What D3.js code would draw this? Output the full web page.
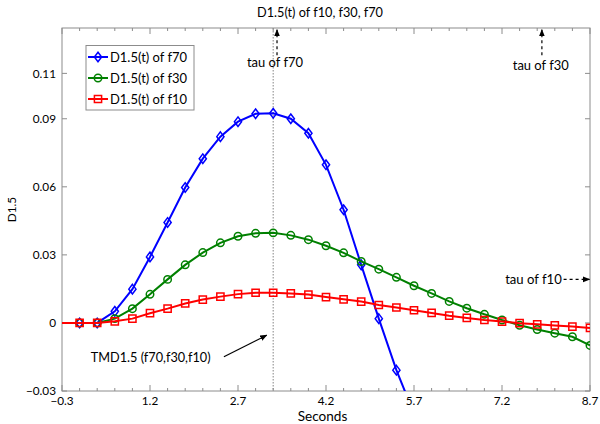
<!DOCTYPE html>
<html><head><meta charset="utf-8">
<script src="https://cdn.jsdelivr.net/npm/d3@7/dist/d3.min.js"></script>
<style>
html,body{margin:0;padding:0;background:#fff;}
svg{display:block;font-family:Lato,"Open Sans",sans-serif;}
</style></head>
<body><svg id="c" width="600" height="424"></svg>
<script>
const seconds = [-0.3,0,0.3,0.6,0.9,1.2,1.5,1.8,2.1,2.4,2.7,3.0,3.3,3.6,3.9,4.2,4.5,4.8,5.1,5.4,5.7,6.0,6.3,6.6,6.9,7.2,7.5,7.8,8.1,8.4,8.7];
const f70 = [0,0,0,0.0051,0.0149,0.0291,0.0443,0.0597,0.0724,0.0821,0.0887,0.0922,0.0924,0.0900,0.0836,0.0697,0.0499,0.0256,0.0019,-0.0208,-0.0400];
const f30 = [0,0,0,0.0019,0.0063,0.0126,0.0192,0.0256,0.0310,0.0353,0.0382,0.0395,0.0397,0.0386,0.0367,0.0340,0.0309,0.0271,0.0237,0.0201,0.0164,0.0130,0.0095,0.0065,0.0038,0.0013,-0.0010,-0.0029,-0.0045,-0.0061,-0.0099];
const f10 = [0,0,0,0.0007,0.0019,0.0043,0.0063,0.0086,0.0103,0.0116,0.0127,0.0133,0.0133,0.0130,0.0125,0.0114,0.0104,0.0094,0.0079,0.0068,0.0056,0.0044,0.0032,0.0022,0.0013,0.0006,-0.0001,-0.0006,-0.0011,-0.0016,-0.0022];
const xMajorTicks = [-0.3,1.2,2.7,4.2,5.7,7.2,8.7];
const xMinorTicks = [0,0.3,0.6,0.9,1.5,1.8,2.1,2.4,3.0,3.3,3.6,3.9,4.5,4.8,5.1,5.4,6.0,6.3,6.6,6.9,7.5,7.8,8.1,8.4];
const yTicks = [-0.03,0,0.03,0.06,0.09,0.11];
const yTickLabels = ["\u22120.03","0","0.03","0.06","0.09","0.11"];
const xTickLabels = ["\u22120.3","1.2","2.7","4.2","5.7","7.2","8.7"];
const tauLine = 3.3;
const seriesNames = ["D1.5(t) of f70","D1.5(t) of f30","D1.5(t) of f10"];
const title = "D1.5(t) of f10, f30, f70";
const xLabel = "Seconds", yLabel = "D1.5";

const svg = d3.select("#c");
const L=62,R=590,T=28,B=391;
const x = d3.scaleLinear().domain([-0.3,8.7]).range([L,R]);
const y = d3.scaleLinear().domain([-0.03,0.13]).range([B,T]);
const axisColor="#8c8c8c", textColor="#000";

function fit(sel, target){
  sel.attr("font-size",14);
  const w = sel.node().getComputedTextLength();
  if (w>0) sel.attr("font-size", 14*target/w);
  return sel;
}

const defs = svg.append("defs");
defs.append("clipPath").attr("id","clip")
  .append("rect").attr("x",L).attr("y",T).attr("width",R-L).attr("height",B-T);
defs.append("marker").attr("id","ah").attr("viewBox","0 0 10 10").attr("refX",9).attr("refY",5)
  .attr("markerWidth",6).attr("markerHeight",6).attr("orient","auto")
  .append("path").attr("d","M0,1 L10,5 L0,9 Z").attr("fill","#000");

svg.append("line").attr("x1",x(tauLine)).attr("x2",x(tauLine)).attr("y1",T).attr("y2",B)
  .attr("stroke","#999").attr("stroke-width",1.2).attr("stroke-dasharray","1.5,1.5");

const g = svg.append("g");
g.append("rect").attr("x",L).attr("y",T).attr("width",R-L).attr("height",B-T)
  .attr("fill","none").attr("stroke",axisColor).attr("stroke-width",1);
const tk = g.append("g").attr("stroke",axisColor).attr("stroke-width",1);
xMajorTicks.forEach(v=>{
  tk.append("line").attr("x1",x(v)).attr("x2",x(v)).attr("y1",B).attr("y2",B-6);
  tk.append("line").attr("x1",x(v)).attr("x2",x(v)).attr("y1",T).attr("y2",T+6);
});
xMinorTicks.forEach(v=>{
  tk.append("line").attr("x1",x(v)).attr("x2",x(v)).attr("y1",B).attr("y2",B-3);
  tk.append("line").attr("x1",x(v)).attr("x2",x(v)).attr("y1",T).attr("y2",T+3);
});
yTicks.forEach(v=>{
  tk.append("line").attr("x1",L).attr("x2",L+5).attr("y1",y(v)).attr("y2",y(v));
  tk.append("line").attr("x1",R).attr("x2",R-5).attr("y1",y(v)).attr("y2",y(v));
});

const probe = svg.append("text").text("0.09");
fit(probe, 23.3);
const tickFont = +probe.attr("font-size");
probe.remove();
g.selectAll(".yl").data(yTicks).join("text").attr("x",L-6).attr("y",d=>y(d)).attr("dy","0.35em")
  .attr("text-anchor","end").attr("font-size",tickFont).attr("fill",textColor).text((d,i)=>yTickLabels[i]);
g.selectAll(".xl").data(xMajorTicks).join("text").attr("x",d=>x(d)).attr("y",B+14)
  .attr("text-anchor","middle").attr("font-size",tickFont).attr("fill",textColor).text((d,i)=>xTickLabels[i]);

fit(svg.append("text").attr("x",322.5).attr("y",421).attr("text-anchor","middle").attr("fill",textColor).text(xLabel), 49.6);
svg.append("text").attr("transform",`translate(16,${(T+B)/2}) rotate(-90)`).attr("text-anchor","middle").attr("font-size",tickFont).attr("fill",textColor).text(yLabel);
fit(svg.append("text").attr("x",320).attr("y",17).attr("text-anchor","middle").attr("fill",textColor).text(title), 126);

const series = [
  {name:seriesNames[0], vals:f70, color:"#0000ff", shape:"diamond"},
  {name:seriesNames[1], vals:f30, color:"#008000", shape:"circle"},
  {name:seriesNames[2], vals:f10, color:"#ff0000", shape:"square"}
];
function markerPath(shape){
  if(shape==="square") return "M-3.6,-3.6H3.6V3.6H-3.6Z";
  if(shape==="circle") return d3.symbol(d3.symbolCircle,44)();
  return "M0,-4.8L3.6,0L0,4.8L-3.6,0Z";
}
const plot = svg.append("g").attr("clip-path","url(#clip)");
const line = d3.line().x(d=>x(d[0])).y(d=>y(d[1]));
series.forEach(s=>{
  const pts = s.vals.map((v,i)=>[seconds[i],v]);
  plot.append("path").datum(pts).attr("d",line).attr("fill","none").attr("stroke",s.color).attr("stroke-width",2);
  plot.selectAll(null).data(pts.filter(p=>p[0]>=0 && y(p[1])<=B+2)).join("path")
    .attr("transform",p=>`translate(${x(p[0])},${y(p[1])})`).attr("d",markerPath(s.shape))
    .attr("fill","none").attr("stroke",s.color).attr("stroke-width",1.5);
});

const lg = svg.append("g");
lg.append("rect").attr("x",86).attr("y",45.5).attr("width",108).attr("height",64.5)
  .attr("fill","#fff").attr("stroke",axisColor).attr("stroke-width",1);
series.forEach((s,i)=>{
  const cy = 57 + i*21;
  lg.append("line").attr("x1",88).attr("x2",108).attr("y1",cy).attr("y2",cy).attr("stroke",s.color).attr("stroke-width",2);
  lg.append("path").attr("transform",`translate(98,${cy})`).attr("d",markerPath(s.shape)).attr("fill","none").attr("stroke",s.color).attr("stroke-width",1.5);
  fit(lg.append("text").attr("x",110).attr("y",cy).attr("dy","0.35em").attr("fill",textColor).text(s.name), 77);
});

const ann = svg.append("g").attr("fill",textColor);
function arrow(x1,y1,x2,y2,dashed){
  svg.append("line").attr("x1",x(x1)).attr("y1",y(y1)).attr("x2",x(x2)).attr("y2",y(y2))
    .attr("stroke","#000").attr("stroke-width",1.2).attr("stroke-dasharray",dashed?"3,3":null)
    .attr("marker-end","url(#ah)");
}
arrow(3.365,0.118,3.365,0.1292,true);
fit(ann.append("text").attr("x",x(3.33)).attr("y",y(0.1127)).attr("text-anchor","middle").text("tau of f70"), 56);
arrow(7.88,0.118,7.88,0.1292,true);
fit(ann.append("text").attr("x",x(7.86)).attr("y",y(0.1114)).attr("text-anchor","middle").text("tau of f30"), 56);
arrow(8.25,0.0192,8.69,0.0192,true);
fit(ann.append("text").attr("x",x(8.22)).attr("y",y(0.019)).attr("dy","0.35em").attr("text-anchor","end").text("tau of f10"), 56.7);
arrow(2.46,-0.0149,3.19,-0.0054,false);
fit(ann.append("text").attr("x",x(0.19)).attr("y",y(-0.0154)).attr("dy","0.35em").text("TMD1.5 (f70,f30,f10)"), 120);
</script></body></html>
